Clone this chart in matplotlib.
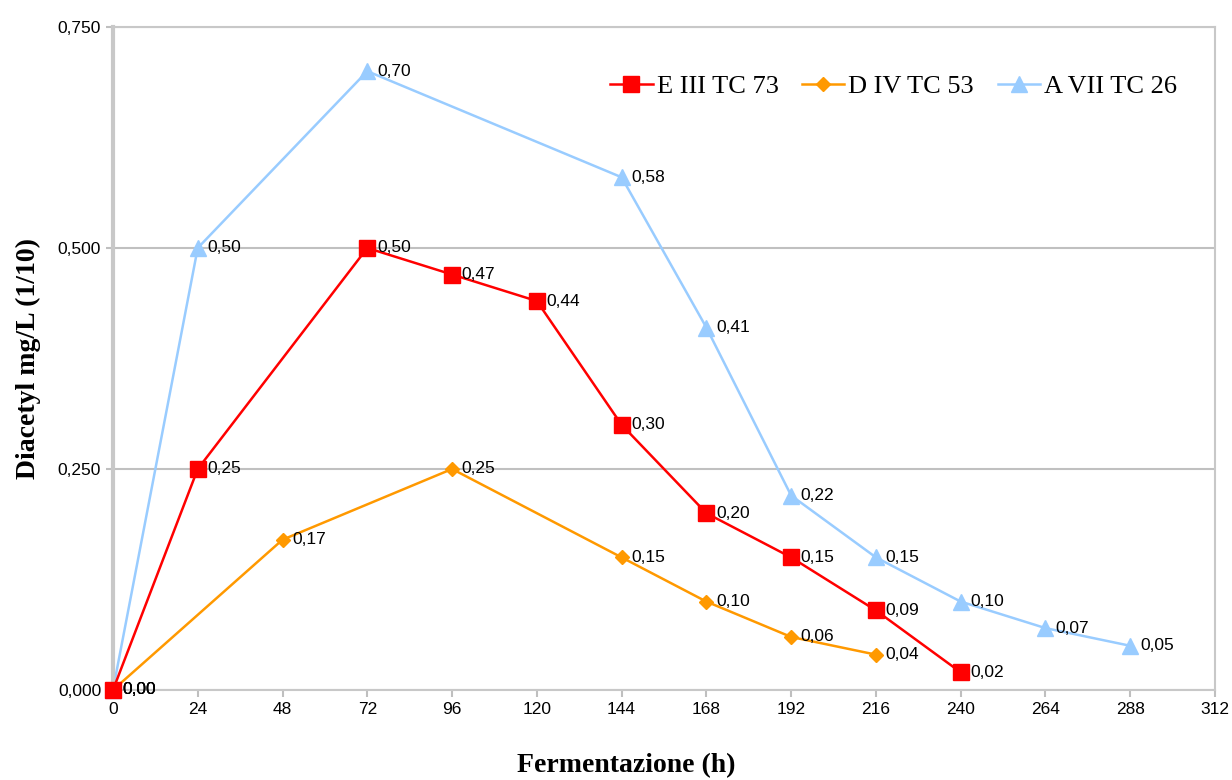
import matplotlib.pyplot as plt
from matplotlib.ticker import FuncFormatter

# fermentation time (h) and diacetyl (mg/L, 1/10) per strain
x_e3 = [0, 24, 72, 96, 120, 144, 168, 192, 216, 240]
y_e3 = [0.00, 0.25, 0.50, 0.47, 0.44, 0.30, 0.20, 0.15, 0.09, 0.02]

x_d4 = [0, 48, 96, 144, 168, 192, 216]
y_d4 = [0.00, 0.17, 0.25, 0.15, 0.10, 0.06, 0.04]

x_a7 = [0, 24, 72, 144, 168, 192, 216, 240, 264, 288]
y_a7 = [0.00, 0.50, 0.70, 0.58, 0.41, 0.22, 0.15, 0.10, 0.07, 0.05]

x_ticks = list(range(0, 313, 24))
y_ticks = [0.0, 0.25, 0.5, 0.75]

series = [
    ("E III TC 73", x_e3, y_e3, "#FF0000", "s", 11, 3),
    ("D IV TC 53", x_d4, y_d4, "#FF9900", "D", 7.5, 2),
    ("A VII TC 26", x_a7, y_a7, "#99CCFF", "^", 11, 1),
]

fig = plt.figure(figsize=(12.32, 7.8), dpi=100)
ax = fig.add_axes([0.0917, 0.1154, 0.8945, 0.85])

for name, xs, ys, col, mk, ms, z in series:
    ax.plot(xs, ys, color=col, marker=mk, markersize=ms, linewidth=1.8,
            label=name, zorder=z, clip_on=False)
    for xv, yv in zip(xs, ys):
        ax.annotate(f"{yv:.2f}".replace(".", ","), (xv, yv), xytext=(7, 0),
                    textcoords="offset points", va="center", ha="left",
                    fontsize=12.5, family="Liberation Sans", zorder=5)

ax.set_xlim(0, 312)
ax.set_ylim(0, 0.75)
ax.set_xticks(x_ticks)
ax.set_yticks(y_ticks)
ax.yaxis.set_major_formatter(FuncFormatter(lambda v, p: f"{v:.3f}".replace(".", ",")))
for lab in ax.get_xticklabels() + ax.get_yticklabels():
    lab.set_family("Liberation Sans")
    lab.set_fontsize(12.5)
ax.tick_params(axis="both", colors="#BFBFBF", labelcolor="black", length=5, width=1.5)

ax.grid(axis="y", color="#C0C0C0", linewidth=1.5)
ax.set_axisbelow(True)
for side, sp in ax.spines.items():
    sp.set_color("#C8C8C8")
    sp.set_linewidth(1.5)
ax.spines["left"].set_linewidth(3)

ax.set_xlabel("Fermentazione (h)", family="Liberation Serif", fontweight="bold",
              fontsize=20)
ax.xaxis.set_label_coords(0.466, -0.095)
ax.set_ylabel("Diacetyl mg/L (1/10)", family="Liberation Serif", fontweight="bold",
              fontsize=20, labelpad=12)

ax.legend(loc="center right", bbox_to_anchor=(0.975, 0.91), ncol=3, frameon=False,
          prop={"family": "Liberation Serif", "size": 19}, handlelength=1.6,
          handletextpad=0.15, columnspacing=0.9, borderaxespad=0)

fig.savefig("out.png", dpi=100)
plt.close()
